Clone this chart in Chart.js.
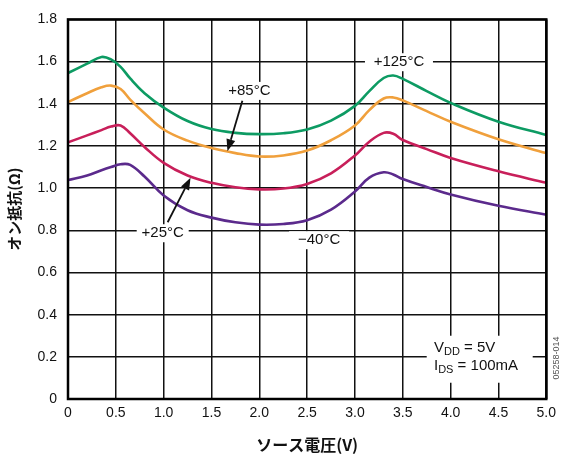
<!DOCTYPE html>
<html>
<head>
<meta charset="utf-8">
<script src="https://cdn.jsdelivr.net/npm/chart.js@4"></script>
<style>
  body { margin: 0; background: #fff; }
  #wrap { width: 562px; height: 459px; }
</style>
</head>
<body>
<div id="wrap"><canvas id="chart"></canvas></div>
<script>
const voltage = [0, 0.2, 0.35, 0.45, 0.55, 0.65, 0.8, 1.0, 1.25, 1.5, 1.75, 2.0, 2.25, 2.5, 2.75, 3.0, 3.15, 3.3, 3.4, 3.5, 3.75, 4.0, 4.5, 5.0];

const r125 = [1.546, 1.59, 1.622, 1.61, 1.575, 1.52, 1.45, 1.382, 1.318, 1.28, 1.262, 1.256, 1.26, 1.278, 1.32, 1.39, 1.46, 1.522, 1.534, 1.518, 1.46, 1.404, 1.315, 1.252];
const r85 = [1.408, 1.45, 1.478, 1.486, 1.47, 1.42, 1.355, 1.278, 1.225, 1.19, 1.166, 1.15, 1.155, 1.178, 1.227, 1.297, 1.37, 1.425, 1.43, 1.416, 1.365, 1.315, 1.232, 1.166];
const r25 = [1.217, 1.25, 1.275, 1.292, 1.297, 1.26, 1.195, 1.12, 1.06, 1.025, 1.004, 0.994, 0.998, 1.02, 1.07, 1.155, 1.22, 1.262, 1.258, 1.228, 1.185, 1.143, 1.08, 1.025];
const rm40 = [1.038, 1.06, 1.085, 1.1, 1.113, 1.11, 1.055, 0.965, 0.895, 0.86, 0.838, 0.827, 0.83, 0.848, 0.898, 0.984, 1.05, 1.075, 1.065, 1.043, 1.005, 0.97, 0.916, 0.874];

const seriesNames = ['+125°C', '+85°C', '+25°C', '−40°C'];

const toPoints = (vals) => vals.map((y, i) => ({ x: voltage[i], y }));

const font = '"Liberation Sans", Arial, sans-serif';
const cjk = '"Noto Sans CJK JP", sans-serif';

const mkSet = (label, vals, color) => ({
	label,
	data: toPoints(vals),
	borderColor: color,
	borderWidth: 2.6,
	pointRadius: 0,
	fill: false,
	tension: 0.4
});

// labels: [text, V, R, boxHalfWidth]
const labels = [
	['+125°C', 3.46, 1.597, 34],
	['+85°C', 1.896, 1.461, 26],
	['+25°C', 0.99, 0.786, 26],
	['−40°C', 2.625, 0.753, 30]
];
// arrows: [fromV, fromR, toV, toR]
const arrows = [
	[1.823, 1.414, 1.667, 1.175],
	[1.042, 0.838, 1.281, 1.049]
];

const annotate = {
	id: 'annotate',
	beforeDatasetsDraw(chart) {
		const { ctx, scales: { x, y } } = chart;
		ctx.save();
		ctx.fillStyle = '#fff';
		labels.forEach(([t, v, r, hw]) => {
			const px = x.getPixelForValue(v), py = y.getPixelForValue(r);
			ctx.fillRect(px - hw, py - 9, hw * 2, 18);
		});
		// condition box
		ctx.fillRect(x.getPixelForValue(3.75), y.getPixelForValue(0.3), 106, 47);
		ctx.restore();
	},
	afterDatasetsDraw(chart) {
		const { ctx, scales: { x, y }, chartArea: a } = chart;
		ctx.save();
		ctx.fillStyle = '#111';
		ctx.strokeStyle = '#111';
		ctx.font = '15px ' + font;
		ctx.textAlign = 'center';
		ctx.textBaseline = 'middle';
		labels.forEach(([t, v, r]) => {
			ctx.fillText(t, x.getPixelForValue(v), y.getPixelForValue(r));
		});

		arrows.forEach(([v1, r1, v2, r2]) => {
			const x1 = x.getPixelForValue(v1), y1 = y.getPixelForValue(r1);
			const x2 = x.getPixelForValue(v2), y2 = y.getPixelForValue(r2);
			const ang = Math.atan2(y2 - y1, x2 - x1);
			const hl = 12, hw = 4.5;
			const bx = x2 - hl * Math.cos(ang), by = y2 - hl * Math.sin(ang);
			ctx.lineWidth = 1.8;
			ctx.beginPath();
			ctx.moveTo(x1, y1);
			ctx.lineTo(bx, by);
			ctx.stroke();
			ctx.beginPath();
			ctx.moveTo(x2, y2);
			ctx.lineTo(bx + hw * Math.sin(ang), by - hw * Math.cos(ang));
			ctx.lineTo(bx - hw * Math.sin(ang), by + hw * Math.cos(ang));
			ctx.closePath();
			ctx.fill();
		});

		// conditions text
		ctx.textAlign = 'left';
		const tx = 434, ty1 = 348, ty2 = 366;
		ctx.font = '15px ' + font;
		ctx.fillText('V', tx, ty1);
		let w = ctx.measureText('V').width;
		ctx.font = '11px ' + font;
		ctx.fillText('DD', tx + w, ty1 + 4);
		let w2 = ctx.measureText('DD').width;
		ctx.font = '15px ' + font;
		ctx.fillText(' = 5V', tx + w + w2, ty1);
		ctx.fillText('I', tx, ty2);
		w = ctx.measureText('I').width;
		ctx.font = '11px ' + font;
		ctx.fillText('DS', tx + w, ty2 + 4);
		w2 = ctx.measureText('DS').width;
		ctx.font = '15px ' + font;
		ctx.fillText(' = 100mA', tx + w + w2, ty2);

		// frame
		ctx.lineWidth = 2.5;
		ctx.strokeStyle = '#000';
		ctx.strokeRect(a.left, a.top, a.right - a.left, a.bottom - a.top);

		// figure code
		ctx.translate(557, 358);
		ctx.rotate(-Math.PI / 2);
		ctx.textAlign = 'center';
		ctx.fillStyle = '#555';
		ctx.font = '9px ' + font;
		ctx.fillText('05258-014', 0, 0);
		ctx.restore();
	}
};

new Chart(document.getElementById('chart'), {
	type: 'line',
	data: {
		datasets: [
			mkSet(seriesNames[0], r125, '#0d9b63'),
			mkSet(seriesNames[1], r85, '#f0a03c'),
			mkSet(seriesNames[2], r25, '#c81f5a'),
			mkSet(seriesNames[3], rm40, '#5b2a8c')
		]
	},
	options: {
		responsive: true,
		maintainAspectRatio: false,
		animation: false,
		layout: { padding: { left: 0, right: 14, top: 15, bottom: 0 } },
		plugins: {
			legend: { display: false },
			tooltip: { enabled: false }
		},
		scales: {
			x: {
				type: 'linear',
				min: 0,
				max: 5,
				afterFit: (s) => { s.height = 60; },
				ticks: {
					stepSize: 0.5,
					padding: 6,
					color: '#111',
					font: { family: font, size: 14 },
					callback: (v) => v === 0 ? '0' : v.toFixed(1)
				},
				grid: { color: '#111', lineWidth: 1.5, drawTicks: false },
				border: { display: false },
				title: {
					display: true,
					text: 'ソース電圧(V)',
					color: '#111',
					padding: { top: 11 },
					font: { family: cjk, size: 16, weight: 'bold' }
				}
			},
			y: {
				min: 0,
				max: 1.8,
				afterFit: (s) => { s.width = 68; },
				ticks: {
					stepSize: 0.2,
					padding: 11,
					color: '#111',
					font: { family: font, size: 14 },
					callback: (v) => v === 0 ? '0' : v.toFixed(1)
				},
				grid: { color: '#111', lineWidth: 1.5, drawTicks: false },
				border: { display: false },
				title: {
					display: true,
					text: 'オン抵抗(Ω)',
					color: '#111',
					padding: { top: 5, bottom: 0 },
					font: { family: cjk, size: 15, weight: 'bold' }
				}
			}
		}
	},
	plugins: [annotate]
});
</script>
</body>
</html>
